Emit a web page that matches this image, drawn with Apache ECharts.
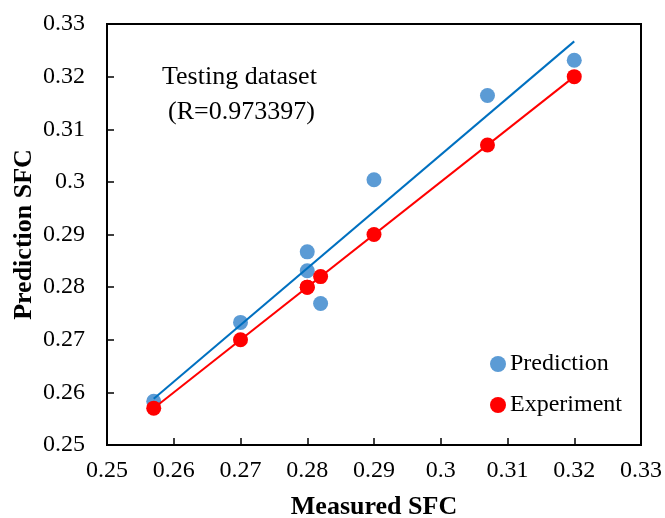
<!DOCTYPE html>
<html>
<head>
<meta charset="utf-8">
<script src="https://cdn.jsdelivr.net/npm/echarts@6/dist/echarts.min.js"></script>
<style>
  html, body { margin: 0; padding: 0; background: #fff; }
  #chart { width: 665px; height: 518px; }
</style>
</head>
<body>
<div id="chart"></div>
<script>
// measured values (x) for the testing set
const measured = [0.257, 0.27, 0.28, 0.28, 0.282, 0.29, 0.307, 0.32]
// predicted values
const predicted = [0.2583, 0.2733, 0.2867, 0.2831, 0.2769, 0.3004, 0.3164, 0.3231]
// experiment points sit on y = x
const experiment = [0.257, 0.27, 0.28, 0.28, 0.282, 0.29, 0.307, 0.32]
// trend line ends
const trendX = [0.257, 0.32]
const predTrend = [0.2588, 0.3267]
const expTrend = [0.257, 0.32]
const ticks = [0.25, 0.26, 0.27, 0.28, 0.29, 0.3, 0.31, 0.32, 0.33]

const font = 'Liberation Serif'
const myChart = echarts.init(document.getElementById('chart'))

const axisCommon = {
  type: 'value',
  min: 0.25,
  max: 0.33,
  interval: 0.01,
  nameLocation: 'middle',
  nameTextStyle: { fontFamily: font, fontWeight: 'bold', fontSize: 26, color: '#000' },
  axisLine: { show: true, onZero: false, lineStyle: { color: '#000', width: 2 } },
  axisTick: { show: true, inside: true, length: 7, lineStyle: { color: '#000', width: 1.5 } },
  axisLabel: {
    fontFamily: font,
    fontSize: 24,
    color: '#000',
    formatter: v => {
      const t = ticks.find(x => Math.abs(x - v) < 1e-9)
      return String(t !== undefined ? t : +v.toFixed(2))
    }
  },
  splitLine: { show: false }
}

myChart.setOption({
  animation: false,
  backgroundColor: '#fff',
  grid: {
    left: 107, top: 24, right: 24, bottom: 73,
    outerBoundsMode: 'none',
    containLabel: false,
    show: true, borderColor: '#000', borderWidth: 2
  },
  xAxis: Object.assign({}, axisCommon, {
    name: 'Measured SFC',
    nameGap: 49,
    axisLabel: Object.assign({}, axisCommon.axisLabel, { margin: 14 })
  }),
  yAxis: Object.assign({}, axisCommon, {
    name: 'Prediction SFC',
    nameGap: 70,
    nameMoveOverlap: false,
    axisLabel: Object.assign({}, axisCommon.axisLabel, { margin: 22 })
  }),
  legend: {
    orient: 'vertical',
    left: 485,
    top: 347,
    itemGap: 17,
    itemWidth: 16,
    itemHeight: 16,
    textStyle: { fontFamily: font, fontSize: 24, color: '#000', padding: [0, 0, 0, -1] },
    data: [
      { name: 'Prediction', icon: 'circle' },
      { name: 'Experiment', icon: 'circle' }
    ]
  },
  graphic: [
    {
      type: 'text',
      left: 162,
      top: 64,
      style: { text: 'Testing dataset', fontFamily: font, fontSize: 26, fill: '#000' }
    },
    {
      type: 'text',
      left: 168,
      top: 99,
      style: { text: '(R=0.973397)', fontFamily: font, fontSize: 26, fill: '#000' }
    }
  ],
  series: [
    {
      name: 'Prediction',
      type: 'scatter',
      symbolSize: 15,
      itemStyle: { color: '#5B9BD5', opacity: 1 },
      data: measured.map((x, i) => [x, predicted[i]]),
      z: 2
    },
    {
      name: 'Experiment',
      type: 'scatter',
      symbolSize: 15,
      itemStyle: { color: '#FF0000', opacity: 1 },
      data: measured.map((x, i) => [x, experiment[i]]),
      z: 3
    },
    {
      name: 'predTrend',
      type: 'line',
      showSymbol: false,
      symbol: 'none',
      lineStyle: { color: '#0070C0', width: 2 },
      data: trendX.map((x, i) => [x, predTrend[i]]),
      z: 4
    },
    {
      name: 'expTrend',
      type: 'line',
      showSymbol: false,
      symbol: 'none',
      lineStyle: { color: '#FF0000', width: 2 },
      data: trendX.map((x, i) => [x, expTrend[i]]),
      z: 4
    }
  ]
})
</script>
</body>
</html>
